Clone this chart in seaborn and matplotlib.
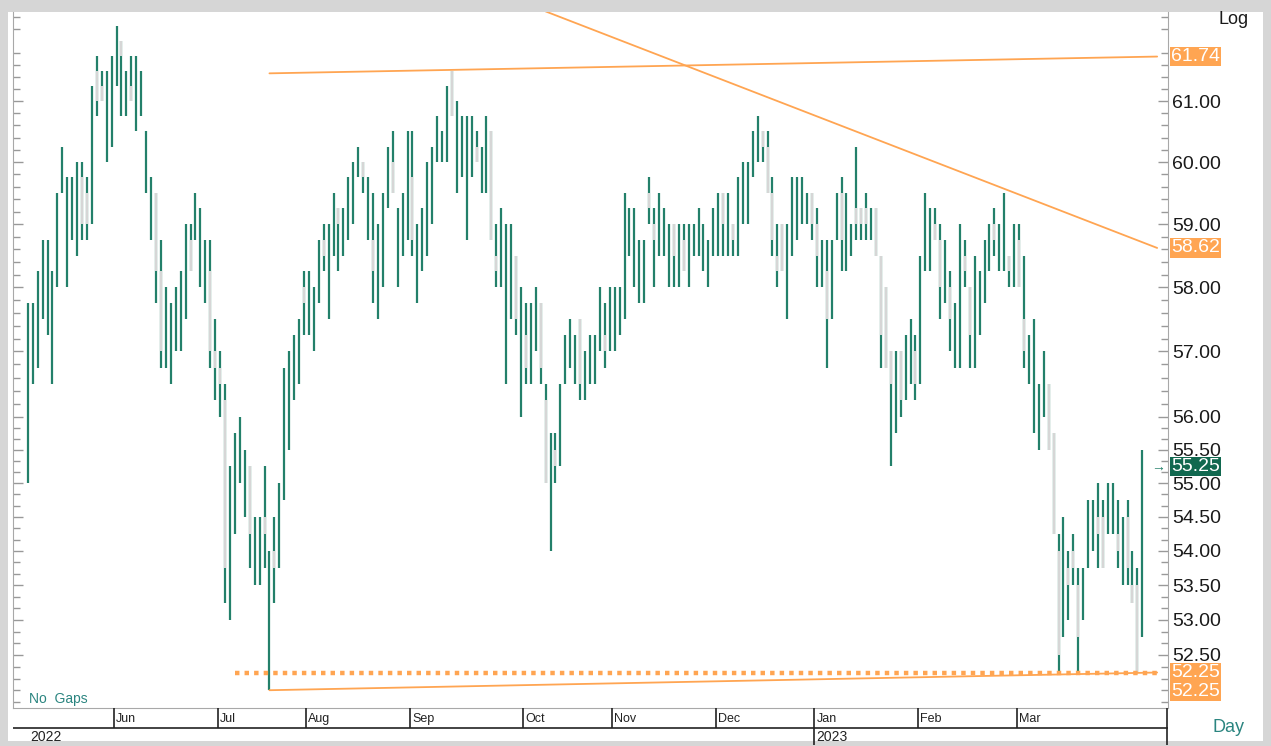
import numpy as np
import matplotlib
matplotlib.use("Agg")
import matplotlib.pyplot as plt
import matplotlib.transforms as mtransforms
from matplotlib.patches import Rectangle
from matplotlib.ticker import FixedLocator, NullFormatter
import seaborn as sns

# daily high / low, one value per bar (227 trading days, May 2022 - Mar 2023)
highs = [57.75, 57.75, 58.25, 58.75, 58.75, 58.25, 59.5, 60.25, 59.75, 59.75,
         60.0, 60.0, 59.75, 61.25, 61.75, 61.5, 61.5, 61.75, 62.25, 62.0,
         61.5, 61.75, 61.75, 61.5, 60.5, 59.75, 59.5, 58.75, 58.0, 57.75,
         58.0, 58.25, 59.0, 59.0, 59.5, 59.25, 58.75, 58.75, 57.5, 57.0,
         56.5, 55.25, 55.75, 56.0, 55.5, 55.25, 54.5, 54.5, 55.25, 54.0,
         54.5, 55.0, 56.75, 57.0, 57.25, 57.5, 58.25, 58.25, 58.0, 58.75,
         59.0, 59.0, 59.5, 59.25, 59.25, 59.75, 60.0, 60.25, 60.0, 59.75,
         59.5, 59.0, 59.5, 60.25, 60.5, 59.25, 59.5, 60.5, 60.5, 59.0,
         59.25, 60.0, 60.25, 60.75, 60.5, 61.25, 61.5, 61.0, 60.75, 60.75,
         60.75, 60.5, 60.25, 60.75, 60.5, 59.0, 59.25, 59.0, 59.0, 58.5,
         58.0, 57.75, 57.75, 58.0, 57.75, 56.5, 55.75, 55.75, 56.5, 57.25,
         57.5, 57.25, 57.5, 57.0, 57.25, 57.25, 58.0, 57.75, 58.0, 58.0,
         58.0, 59.5, 59.25, 59.25, 58.75, 58.75, 59.75, 59.25, 59.5, 59.25,
         59.0, 59.0, 59.0, 59.0, 59.0, 59.0, 59.25, 59.0, 58.75, 59.25,
         59.5, 59.5, 59.5, 59.0, 59.75, 60.0, 60.0, 60.5, 60.75, 60.5,
         60.5, 59.75, 59.0, 59.0, 59.0, 59.75, 59.75, 59.75, 59.5, 59.5,
         59.25, 58.75, 58.75, 58.75, 59.5, 59.75, 59.5, 59.0, 60.25, 59.25,
         59.5, 59.25, 59.25, 58.5, 58.0, 57.0, 57.0, 57.0, 57.25, 57.5,
         57.25, 58.5, 59.5, 59.25, 59.25, 59.0, 58.75, 58.25, 57.75, 59.0,
         58.75, 58.0, 58.5, 58.25, 58.75, 59.0, 59.25, 59.0, 59.5, 58.5,
         59.0, 59.0, 58.5, 57.25, 57.5, 56.5, 57.0, 56.5, 55.75, 54.25,
         54.5, 54.0, 54.25, 53.75, 53.75, 54.75, 54.75, 55.0, 54.75, 55.0,
         55.0, 54.75, 54.5, 54.75, 54.0, 53.75, 55.5]

lows = [55.0, 56.5, 56.75, 57.5, 57.25, 56.5, 58.0, 59.5, 58.0, 58.75,
        58.5, 58.75, 58.75, 59.0, 60.75, 61.0, 60.0, 60.25, 61.25, 60.75,
        60.75, 61.0, 60.5, 60.75, 59.5, 58.75, 57.75, 56.75, 56.75, 56.5,
        57.0, 57.0, 57.5, 58.25, 58.75, 58.0, 57.75, 56.75, 56.25, 56.0,
        53.25, 53.0, 54.25, 55.0, 54.5, 53.75, 53.5, 53.5, 53.75, 52.0,
        53.25, 53.75, 54.75, 55.5, 56.25, 56.5, 57.25, 57.25, 57.0, 57.75,
        58.25, 57.5, 58.5, 58.25, 58.5, 58.75, 59.0, 59.75, 59.5, 58.75,
        57.75, 57.5, 58.0, 59.25, 59.5, 58.0, 58.5, 58.75, 58.5, 57.75,
        58.25, 58.5, 59.0, 60.0, 60.0, 60.0, 60.75, 59.5, 59.75, 58.75,
        59.75, 60.0, 59.5, 59.5, 58.75, 58.0, 58.0, 56.5, 57.5, 57.25,
        56.0, 56.5, 56.5, 57.0, 56.5, 55.0, 54.0, 55.0, 55.25, 56.5,
        56.75, 56.5, 56.25, 56.25, 56.5, 56.5, 57.0, 56.75, 57.0, 57.0,
        57.25, 57.5, 58.5, 58.0, 57.75, 57.75, 59.0, 58.0, 58.5, 58.5,
        58.0, 58.0, 58.0, 58.25, 58.0, 58.5, 58.5, 58.25, 58.0, 58.5,
        58.5, 58.5, 58.5, 58.5, 58.5, 59.0, 59.0, 59.75, 60.0, 60.0,
        59.5, 58.5, 58.0, 58.25, 57.5, 58.5, 58.75, 59.0, 59.0, 58.75,
        58.0, 58.0, 56.75, 57.5, 58.75, 58.25, 58.25, 58.5, 58.75, 58.75,
        58.75, 58.75, 58.5, 56.75, 56.75, 55.25, 55.75, 56.0, 56.25, 56.5,
        56.25, 56.5, 58.25, 58.25, 58.75, 57.5, 57.75, 57.0, 56.75, 56.75,
        58.0, 56.75, 56.75, 57.25, 57.75, 58.25, 58.5, 58.25, 58.25, 58.0,
        58.0, 58.0, 56.75, 56.5, 55.75, 55.5, 56.0, 55.5, 54.25, 52.25,
        52.75, 53.0, 53.5, 52.25, 53.0, 53.75, 54.0, 53.75, 53.75, 54.25,
        54.25, 53.75, 53.5, 53.5, 53.25, 52.25, 52.75]

# grey (overlapping) part of some bars: bar number, top, bottom
gray_bar = [12, 13, 15, 16, 20, 22, 27, 28, 34, 38, 39, 40, 41, 46, 49, 51,
            57, 61, 64, 69, 71, 75, 79, 87, 92, 95, 96, 100, 102, 105, 106, 108,
            113, 118, 127, 128, 132, 134, 142, 144, 150, 151, 152, 153, 154, 160,
            161, 163, 166, 169, 170, 171, 173, 174, 175, 176, 178, 181, 185, 186,
            188, 191, 192, 197, 200, 202, 203, 208, 209, 210, 212, 213, 214, 218,
            219, 222, 224, 225, 226]
gray_top = [59.75, 59.5, 61.5, 61.25, 62.0, 61.25, 59.5, 58.25, 58.75, 58.25, 57.0, 56.75, 56.25, 55.25, 54.5, 54.0,
            58.0, 58.75, 59.25, 60.0, 58.75, 60.0, 59.75, 61.5, 60.25, 60.5, 58.5, 58.5, 57.25, 57.75, 56.25, 55.5,
            57.5, 57.25, 59.5, 59.0, 59.0, 58.75, 59.5, 59.0, 60.5, 60.25, 59.5, 58.5, 59.0, 59.5,
            59.0, 58.25, 59.5, 59.25, 59.25, 59.25, 59.25, 58.5, 58.0, 57.0, 57.0, 57.0, 59.0, 58.75,
            58.0, 58.5, 58.0, 59.0, 58.5, 58.75, 57.5, 56.5, 55.75, 54.0, 53.75, 54.0, 53.5, 54.5,
            54.5, 54.25, 54.5, 53.5, 53.5]
gray_bot = [59.0, 59.0, 61.0, 61.0, 61.75, 61.0, 58.25, 57.0, 58.25, 57.0, 56.75, 56.5, 53.75, 54.25, 54.25, 53.75,
            57.75, 58.5, 59.0, 59.75, 58.25, 59.5, 58.75, 60.75, 60.0, 58.75, 58.25, 57.5, 56.75, 56.75, 55.0, 55.25,
            56.5, 57.0, 59.25, 58.75, 58.5, 58.25, 59.0, 58.75, 60.25, 59.5, 58.75, 58.25, 58.25, 59.0,
            58.5, 57.5, 58.75, 59.0, 59.0, 59.0, 58.5, 57.25, 56.75, 56.5, 56.25, 56.5, 58.75, 58.0,
            57.5, 58.25, 57.25, 58.75, 58.25, 58.0, 57.0, 55.5, 54.25, 52.5, 53.5, 53.75, 52.75, 54.25,
            53.75, 54.0, 53.75, 53.25, 52.25]

months = ['Jun', 'Jul', 'Aug', 'Sep', 'Oct', 'Nov', 'Dec', 'Jan', 'Feb', 'Mar']
month_first_bar = [18, 39, 57, 78, 101, 119, 140, 160, 181, 201]
years = ['2022', '2023']
year_first_bar = [0, 160]

price_labels = [52.5, 53.0, 53.5, 54.0, 54.5, 55.0, 55.5, 56.0, 57.0, 58.0, 59.0, 60.0, 61.0]

# trend lines (bar index, price)
upper_x, upper_y = [49, 229], [61.46, 61.74]
lower_x, lower_y = [49, 229], [52.0, 52.25]
down_x, down_y = [105, 229], [62.5, 58.62]
support_x, support_y = [42, 229], [52.25, 52.25]
last_price = 55.25

GREEN = '#23806a'
GREY = '#d6d6d6'
ORANGE = '#ffa552'
TEAL = '#2b8580'

sns.set_style("white")
plt.rcParams['font.family'] = ['Liberation Sans', 'DejaVu Sans']

W, H = 1271, 746
fig = plt.figure(figsize=(W / 100, H / 100), dpi=100, facecolor='#d6d6d6')
fig.patches.append(Rectangle((8 / W, 1 - 741 / H), 1255 / W, (741 - 12) / H,
                             transform=fig.transFigure, fc='white', ec='none', zorder=-10))

L, R, T, B = 13, 1168, 12, 708
ax = fig.add_axes([L / W, 1 - B / H, (R - L) / W, (B - T) / H])
ax.set_facecolor('white')

x = np.arange(len(highs))
ax.vlines(x, lows, highs, colors=GREEN, lw=1.6, zorder=3)
gx = np.array(gray_bar) - 1
ax.vlines(gx, gray_bot, gray_top, colors=GREY, lw=1.6, zorder=4)

sns.lineplot(x=upper_x, y=upper_y, ax=ax, color=ORANGE, lw=1.3, zorder=5)
sns.lineplot(x=lower_x, y=lower_y, ax=ax, color=ORANGE, lw=1.3, zorder=5)
sns.lineplot(x=down_x, y=down_y, ax=ax, color=ORANGE, lw=1.3, zorder=5)
ax.plot(support_x, support_y, color=ORANGE, lw=3.2, ls=(0, (1.0, 1.15)), zorder=5)

ax.set_yscale('log')
ax.set_xlim(-3.0, 231.2)
ax.set_ylim(51.75, 62.49)

ax.yaxis.tick_right()
ax.set_yticks(price_labels, labels=[f'{v:.2f}' for v in price_labels])
minor = []
ext = [51.5] + price_labels + [62.0, 63.0]
for a, b in zip(ext[:-1], ext[1:]):
    n = max(1, int(round(np.log(b / a) / 0.00325)))
    minor.extend(np.geomspace(a, b, n + 1)[1:-1])
ax.yaxis.set_minor_locator(FixedLocator(minor))
ax.yaxis.set_minor_formatter(NullFormatter())
ax.tick_params(axis='y', which='both', left=True, right=True, direction='in',
               colors='#999999', labelcolor='#1a1a1a', labelsize=14, pad=3)
ax.tick_params(axis='y', which='major', length=7, width=1)
ax.tick_params(axis='y', which='minor', length=5, width=1)
ax.set_xticks([])
for s in ['left', 'right', 'bottom']:
    ax.spines[s].set_color('#a8a8a8')
ax.spines['top'].set_visible(False)

# price tags on the right
trans = mtransforms.offset_copy(mtransforms.blended_transform_factory(ax.transAxes, ax.transData),
                                fig=fig, x=3, y=0, units='dots')
tag = dict(ha='left', va='center', fontsize=14, color='white', transform=trans, clip_on=False, zorder=10)
box = dict(boxstyle='square,pad=0.06', fc=ORANGE, ec='none')
ax.text(1.0, upper_y[-1], '61.74', bbox=box, **tag)
ax.text(1.0, down_y[-1], '58.62', bbox=box, **tag)
ax.text(1.0, support_y[-1], '52.25', bbox=box, **tag)
trans2 = mtransforms.offset_copy(trans, fig=fig, x=0, y=-19, units='dots')
ax.text(1.0, lower_y[-1], '52.25', bbox=box, **{**tag, 'transform': trans2})
ax.text(1.0, last_price, '55.25', bbox=dict(boxstyle='square,pad=0.06', fc='#11684f', ec='none'), **tag)
ax.text(0.9855, last_price, '→', ha='left', va='center', fontsize=10, color=GREEN,
        transform=mtransforms.blended_transform_factory(ax.transAxes, ax.transData))

ax.text(0.014, 51.88, 'No  Gaps', fontsize=10, color=TEAL, ha='left', va='center',
        transform=mtransforms.blended_transform_factory(ax.transAxes, ax.transData))

# month / year strip
axm = fig.add_axes([L / W, 1 - 745 / H, (R - L) / W, 37 / H])
axm.set_xlim(ax.get_xlim())
axm.set_ylim(37, 0)
axm.axis('off')
axm.axhline(20, color='#222222', lw=1.2)
for m, b in zip(months, month_first_bar):
    axm.vlines(b - 0.5, 0, 20, color='#222222', lw=1.2)
    axm.text(b - 0.1, 11, m, fontsize=9, ha='left', va='center', color='#222222')
axm.vlines(231.0, 0, 37, color='#222222', lw=1.2)
for yl, b in zip(years, year_first_bar):
    if b > 0:
        axm.vlines(b - 0.5, 20, 37, color='#222222', lw=1.2)
    axm.text(max(b, 0.5) - 0.1, 29, yl, fontsize=10, ha='left', va='center', color='#222222')

fig.text(1234 / W, 1 - 20 / H, 'Log', fontsize=13, ha='center', va='center', color='#1a1a1a')
fig.text(1229 / W, 1 - 727 / H, 'Day', fontsize=13, ha='center', va='center', color=TEAL)

fig.savefig('out.png', dpi=100, facecolor=fig.get_facecolor())
